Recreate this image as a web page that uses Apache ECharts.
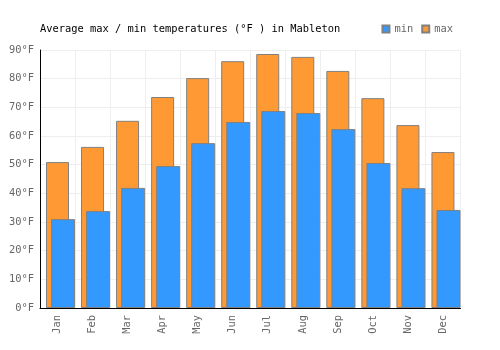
<!DOCTYPE html>
<html>
<head>
<meta charset="utf-8">
<script src="https://cdn.jsdelivr.net/npm/echarts@6/dist/echarts.min.js"></script>
<style>
  html, body { margin: 0; padding: 0; background: #fff; }
  #chart { width: 500px; height: 350px; }
</style>
</head>
<body>
<div id="chart"></div>
<script>
const months = ['Jan', 'Feb', 'Mar', 'Apr', 'May', 'Jun', 'Jul', 'Aug', 'Sep', 'Oct', 'Nov', 'Dec']
const minTemps = [31.0, 33.8, 41.9, 49.5, 57.5, 64.9, 68.7, 68.0, 62.4, 50.6, 41.8, 34.2]
const maxTemps = [50.9, 56.2, 65.3, 73.6, 80.2, 86.1, 88.6, 87.6, 82.7, 73.2, 63.8, 54.4]

const FONT = '"DejaVu Sans Mono", monospace'
const BORDER = '#808080'

const chart = echarts.init(document.getElementById('chart'), null, { renderer: 'canvas' })

const yAxisBase = { type: 'value', min: 0, max: 90, interval: 10 }

chart.setOption({
  animation: false,
  backgroundColor: '#fff',
  title: {
    text: 'Average max / min temperatures (°F ) in Mableton',
    left: 35, top: 19,
    textStyle: { fontFamily: FONT, fontSize: 10.4, fontWeight: 'normal', color: '#000' },
  },
  legend: {
    data: ['min', 'max'],
    right: 42, top: 19,
    itemWidth: 7, itemHeight: 7, itemGap: 8,
    icon: 'rect',
    textStyle: { fontFamily: FONT, fontSize: 10.4, color: '#666' },
  },
  grid: [
    // visible axes
    { left: 40, right: 39.5, top: 50, bottom: 42 },
    // bars, nudged slightly right like the original
    { left: 43, right: 36.5, top: 50, bottom: 42 },
  ],
  xAxis: [
    {
      type: 'category', gridIndex: 0, data: months,
      axisTick: { show: false },
      axisLine: { lineStyle: { color: '#000', width: 1 } },
      axisLabel: { rotate: 90, color: '#666', fontFamily: FONT, fontSize: 10.4, margin: 7 },
      splitLine: { show: true, lineStyle: { color: '#eee' } },
    },
    { type: 'category', gridIndex: 1, data: months, show: false },
  ],
  yAxis: [
    {
      ...yAxisBase, gridIndex: 0,
      axisLine: { show: true, lineStyle: { color: '#000' } },
      axisTick: { show: false },
      axisLabel: { color: '#666', fontFamily: FONT, fontSize: 10.4, margin: 6, formatter: '{value}°F' },
      splitLine: { lineStyle: { color: '#eee' } },
    },
    { ...yAxisBase, gridIndex: 1, show: false, splitLine: { show: false } },
  ],
  series: [
    {
      name: 'max', type: 'bar', xAxisIndex: 1, yAxisIndex: 1,
      data: maxTemps, barWidth: 23, barGap: '-78%',
      itemStyle: { color: '#ff9933', borderColor: BORDER, borderWidth: 1 },
    },
    {
      name: 'min', type: 'bar', xAxisIndex: 1, yAxisIndex: 1,
      data: minTemps, barWidth: 24,
      itemStyle: { color: '#3399ff', borderColor: BORDER, borderWidth: 1 },
    },
  ],
})
</script>
</body>
</html>
